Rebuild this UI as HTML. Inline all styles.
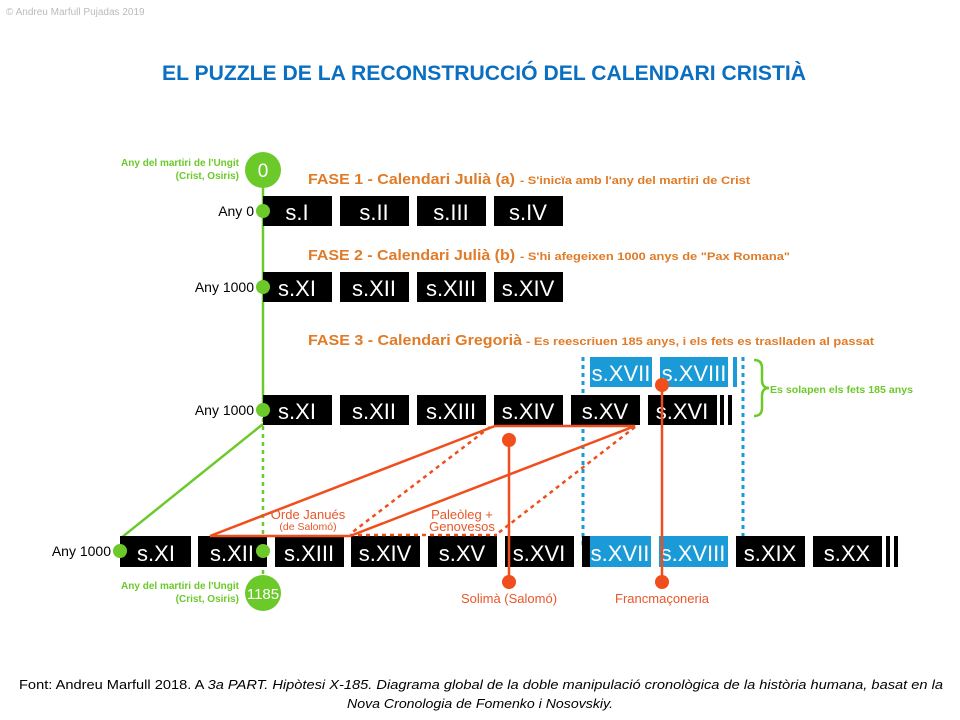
<!DOCTYPE html>
<html><head><meta charset="utf-8"><style>
html,body{margin:0;padding:0;background:#fff;width:960px;height:720px;overflow:hidden}
svg{display:block}
</style></head><body>
<svg width="960" height="720" viewBox="0 0 960 720" xmlns="http://www.w3.org/2000/svg" font-family="Liberation Sans, sans-serif">
<text x="6" y="15" font-size="10" fill="#bbb">© Andreu Marfull Pujadas 2019</text>
<text x="162" y="80" font-size="21" font-weight="bold" fill="#0a6fc0" textLength="644" lengthAdjust="spacingAndGlyphs">EL PUZZLE DE LA RECONSTRUCCIÓ DEL CALENDARI CRISTIÀ</text>

<line x1="263" y1="170" x2="263" y2="410" stroke="#6cc92a" stroke-width="2.5"/>
<line x1="263" y1="410" x2="263" y2="593" stroke="#6cc92a" stroke-width="2.5" stroke-dasharray="4,4"/>
<line x1="263" y1="424" x2="121" y2="538" stroke="#6cc92a" stroke-width="2.5"/>

<line x1="583" y1="357" x2="583" y2="545" stroke="#1a9ad6" stroke-width="3" stroke-dasharray="4,4"/>
<line x1="743" y1="357" x2="743" y2="545" stroke="#1a9ad6" stroke-width="3" stroke-dasharray="4,4"/>

<g font-size="22" fill="#fff" text-anchor="middle">
<rect x="263" y="196" width="69" height="30" fill="#000"/><text x="297" y="220">s.I</text>
<rect x="340" y="196" width="69" height="30" fill="#000"/><text x="374" y="220">s.II</text>
<rect x="417" y="196" width="69" height="30" fill="#000"/><text x="451" y="220">s.III</text>
<rect x="494" y="196" width="69" height="30" fill="#000"/><text x="528" y="220">s.IV</text>
<rect x="263" y="272" width="69" height="30" fill="#000"/><text x="297" y="296">s.XI</text>
<rect x="340" y="272" width="69" height="30" fill="#000"/><text x="374" y="296">s.XII</text>
<rect x="417" y="272" width="69" height="30" fill="#000"/><text x="451" y="296">s.XIII</text>
<rect x="494" y="272" width="69" height="30" fill="#000"/><text x="528" y="296">s.XIV</text>
<rect x="590" y="357" width="62" height="30" fill="#1a9ad6"/><text x="621" y="381">s.XVII</text>
<rect x="660" y="357" width="68" height="30" fill="#1a9ad6"/><text x="694" y="381">s.XVIII</text>
<rect x="733" y="357" width="4" height="30" fill="#1a9ad6"/>
<rect x="263" y="395" width="69" height="30" fill="#000"/><text x="297" y="419">s.XI</text>
<rect x="340" y="395" width="69" height="30" fill="#000"/><text x="374" y="419">s.XII</text>
<rect x="417" y="395" width="69" height="30" fill="#000"/><text x="451" y="419">s.XIII</text>
<rect x="494" y="395" width="69" height="30" fill="#000"/><text x="528" y="419">s.XIV</text>
<rect x="571" y="395" width="69" height="30" fill="#000"/><text x="605" y="419">s.XV</text>
<rect x="648" y="395" width="69" height="30" fill="#000"/><text x="682" y="419">s.XVI</text>
<rect x="720" y="395" width="4" height="30" fill="#000"/><rect x="728" y="395" width="4" height="30" fill="#000"/>
<rect x="120" y="536" width="71" height="31" fill="#000"/><text x="156" y="561">s.XI</text>
<rect x="198" y="536" width="69" height="31" fill="#000"/><text x="232" y="561">s.XII</text>
<rect x="275" y="536" width="69" height="31" fill="#000"/><text x="309" y="561">s.XIII</text>
<rect x="351" y="536" width="69" height="31" fill="#000"/><text x="385" y="561">s.XIV</text>
<rect x="428" y="536" width="69" height="31" fill="#000"/><text x="462" y="561">s.XV</text>
<rect x="505" y="536" width="69" height="31" fill="#000"/><text x="539" y="561">s.XVI</text>
<rect x="582" y="536" width="8" height="31" fill="#000"/>
<rect x="590" y="536" width="61" height="31" fill="#1a9ad6"/><text x="620" y="561">s.XVII</text>
<rect x="659" y="536" width="69" height="31" fill="#1a9ad6"/><text x="693" y="561">s.XVIII</text>
<rect x="736" y="536" width="69" height="31" fill="#000"/><text x="770" y="561">s.XIX</text>
<rect x="813" y="536" width="69" height="31" fill="#000"/><text x="847" y="561">s.XX</text>
<rect x="886" y="536" width="4" height="31" fill="#000"/><rect x="894" y="536" width="4" height="31" fill="#000"/>
</g>

<g stroke="#f04e1c" stroke-width="2.5" fill="none">
<polyline points="210,536 495,426 635,426 350,536 210,536"/>
<line x1="490" y1="427" x2="350" y2="534" stroke-dasharray="4,4"/>
<line x1="635" y1="427" x2="497" y2="534" stroke-dasharray="4,4"/>
<line x1="350" y1="535" x2="497" y2="535" stroke-dasharray="4,4"/>
<line x1="509" y1="440" x2="509" y2="582"/>
<line x1="662" y1="385" x2="662" y2="582"/>
</g>
<g fill="#f04e1c">
<circle cx="509" cy="440" r="7"/><circle cx="509" cy="582" r="7"/>
<circle cx="662" cy="385" r="7"/><circle cx="662" cy="582" r="7"/>
</g>
<g fill="#e8562a" text-anchor="middle">
<text x="308" y="519" font-size="13">Orde Janués</text>
<text x="308" y="530" font-size="10.5">(de Salomó)</text>
<text x="462" y="519" font-size="13">Paleòleg +</text>
<text x="462" y="531" font-size="13">Genovesos</text>
<text x="509" y="603" font-size="13">Solimà (Salomó)</text>
<text x="662" y="603" font-size="13">Francmaçoneria</text>
</g>

<g fill="#6cc92a">
<circle cx="263" cy="170" r="18"/><circle cx="263" cy="593" r="18"/>
<circle cx="263" cy="211" r="7"/><circle cx="263" cy="287" r="7"/><circle cx="263" cy="410" r="7"/>
<circle cx="120" cy="551" r="7"/><circle cx="263" cy="551" r="7"/>
</g>
<text x="263" y="177" font-size="19" fill="#fff" text-anchor="middle">0</text>
<text x="263" y="599" font-size="15" fill="#fff" text-anchor="middle">1185</text>
<g font-size="10" font-weight="bold" fill="#6cc92a" text-anchor="end">
<text x="239" y="166">Any del martiri de l'Ungit</text>
<text x="239" y="179">(Crist, Osiris)</text>
<text x="239" y="589">Any del martiri de l'Ungit</text>
<text x="239" y="602">(Crist, Osiris)</text>
</g>
<g font-size="14" fill="#000" text-anchor="end">
<text x="254" y="216">Any 0</text>
<text x="254" y="292">Any 1000</text>
<text x="254" y="415">Any 1000</text>
<text x="111" y="556">Any 1000</text>
</g>

<g fill="#e07b28" font-weight="bold">
<text x="308" y="184" font-size="15" textLength="207" lengthAdjust="spacingAndGlyphs">FASE 1 - Calendari Julià (a)</text>
<text x="520" y="184" font-size="11" textLength="230" lengthAdjust="spacingAndGlyphs">- S'inicïa amb l'any del martiri de Crist</text>
<text x="308" y="260" font-size="15" textLength="207" lengthAdjust="spacingAndGlyphs">FASE 2 - Calendari Julià (b)</text>
<text x="520" y="260" font-size="11" textLength="270" lengthAdjust="spacingAndGlyphs">- S'hi afegeixen 1000 anys de "Pax Romana"</text>
<text x="308" y="345" font-size="15" textLength="214" lengthAdjust="spacingAndGlyphs">FASE 3 - Calendari Gregorià</text>
<text x="526" y="345" font-size="11" textLength="348" lengthAdjust="spacingAndGlyphs">- Es reescriuen 185 anys, i els fets es traslladen al passat</text>
</g>

<path d="M754,360 Q762,360 762,368 L762,380 Q762,388 769,388 Q762,388 762,396 L762,408 Q762,416 754,416" stroke="#6cc92a" stroke-width="2.5" fill="none"/>
<text x="770" y="393" font-size="10" font-weight="bold" fill="#6cc92a" textLength="143" lengthAdjust="spacingAndGlyphs">Es solapen els fets 185 anys</text>

<text x="19" y="689" font-size="12.5" fill="#000" textLength="924" lengthAdjust="spacingAndGlyphs">Font: Andreu Marfull 2018. A  <tspan font-style="italic">3a PART. Hipòtesi X-185. Diagrama global de la doble manipulació cronològica de la història humana, basat en la</tspan></text>
<text x="480" y="708" font-size="12.5" font-style="italic" fill="#000" text-anchor="middle" textLength="266" lengthAdjust="spacingAndGlyphs">Nova Cronologia de Fomenko i Nosovskiy.</text>
</svg>
</body></html>
